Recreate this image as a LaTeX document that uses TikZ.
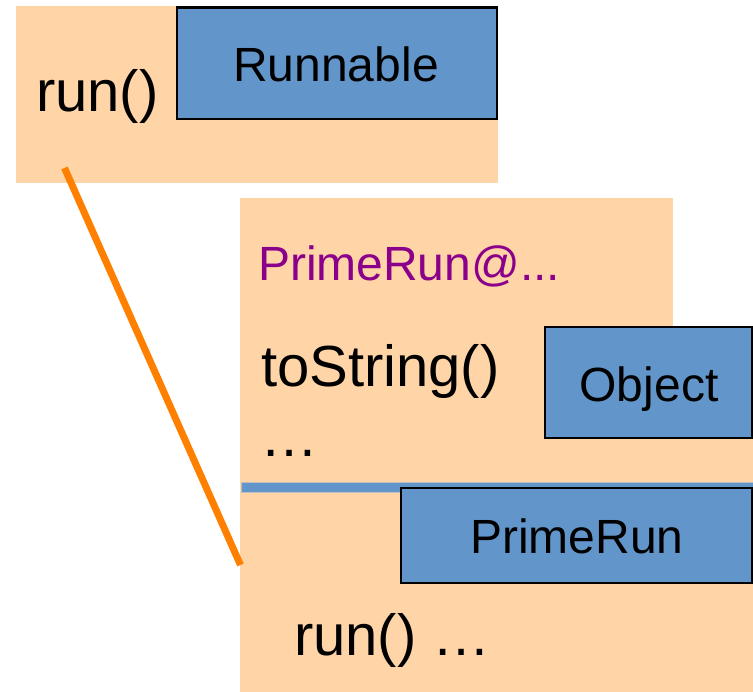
\documentclass[tikz,border=0pt]{standalone}
\usepackage{fontspec}
\setmainfont{Liberation Sans}
\definecolor{peach}{RGB}{255,213,167}
\definecolor{boxblue}{RGB}{98,149,201}
\definecolor{lineorange}{RGB}{255,128,0}
\definecolor{methpurple}{RGB}{139,0,139}
\begin{document}
\begin{tikzpicture}[x=1pt,y=-1pt,
  peachbg/.style={fill=peach,draw=none},
  classbox/.style={fill=boxblue,draw=black,line width=2.2pt},
  lbl/.style={inner sep=0pt,outer sep=0pt,anchor=base west},
  clbl/.style={inner sep=0pt,outer sep=0pt,anchor=base}]
\useasboundingbox (0,0) rectangle (753,692);
% top object (Runnable)
\fill[peach] (16,6) rectangle (498,183);
\draw[classbox] (177,7.5) rectangle (497,119);
\node[clbl,font=\fontsize{48}{50}\selectfont] (runnable) at (336,82) {Runnable};
\node[lbl,font=\fontsize{58}{60}\selectfont] (run1) at (36,112) {run()};
% bottom object (PrimeRun)
\fill[peach] (240,198) rectangle (673,420);
\fill[peach] (240,400) rectangle (753,692);
\draw[classbox] (545,327) rectangle (752,438);
\node[clbl,font=\fontsize{48}{50}\selectfont] (object) at (649,402) {Object};
\fill[boxblue,draw=black!25,line width=0.6pt] (241,482) rectangle (753,492);
\draw[classbox] (401,488) rectangle (752,583);
\node[clbl,font=\fontsize{48}{50}\selectfont] (primerun) at (577,554) {PrimeRun};
\node[lbl,font=\fontsize{48}{50}\selectfont,text=methpurple] (ref) at (258,281) {PrimeRun@...};
\node[lbl,font=\fontsize{58}{60}\selectfont] (tostr) at (261,387) {toString()};
\node[lbl,font=\fontsize{58}{60}\selectfont] (dots) at (260,457) {…};
\node[lbl,font=\fontsize{58}{60}\selectfont] (run2) at (294,655) {run() …};
% connector
\coordinate (lstart) at (64.5,168);
\coordinate (lend) at (240.5,565);
\draw[lineorange,line width=7pt] (lstart) -- (lend);
\end{tikzpicture}
\end{document}
